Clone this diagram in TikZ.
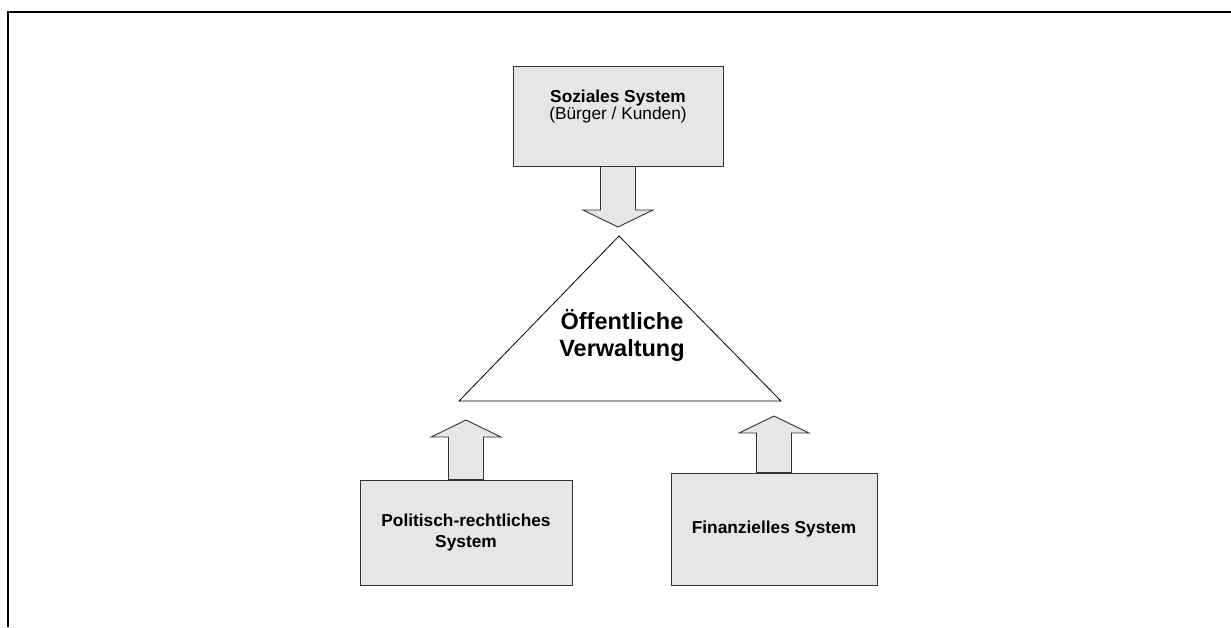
\documentclass[tikz,border=0pt]{standalone}
\usepackage{fontspec}
\setmainfont{Liberation Sans}
\usetikzlibrary{calc}
\definecolor{boxgray}{HTML}{E6E6E6}
\definecolor{edgegray}{HTML}{333333}

% block arrow from a box side (#1) up or down to a tip point (#2)
\newcommand\blockarrow[2]{%
  \draw[blockarr] let \p1=(#1), \p2=(#2), \n1={17*sign(\y1-\y2)} in
    (\x2-17.5pt,\y1) -- (\x2-17.5pt,\y2+\n1) -- (\x2-35pt,\y2+\n1) -- (\x2,\y2)
    -- (\x2+35pt,\y2+\n1) -- (\x2+17.5pt,\y2+\n1) -- (\x2+17.5pt,\y1) -- cycle;}

\begin{document}
\begin{tikzpicture}[x=1pt,y=-1pt,
  sysbox/.style={draw=edgegray,line width=0.9pt,fill=boxgray,rectangle,inner sep=0pt},
  blockarr/.style={draw=edgegray,line width=0.9pt,fill=boxgray,line join=miter},
  boldlabel/.style={font=\fontsize{17.3}{21}\selectfont\bfseries,align=center},
  plainlabel/.style={font=\fontsize{17.3}{20}\selectfont}]
\useasboundingbox (0,0) rectangle (1231,627);

% frame
\draw[line width=2pt] (1231,12) -- (8,12) -- (8,627);

% boxes
\node[sysbox,minimum width=210pt,minimum height=100pt] (soz) at (618,116) {};
\node[align=center,inner sep=0pt] (sozlabel) at (618,106.5)
  {\fontsize{17.3}{20}\selectfont\textbf{Soziales System}\\ \fontsize{17.3}{20}\selectfont(Bürger / Kunden)};
\node[sysbox,boldlabel,minimum width=212pt,minimum height=105pt] (pol) at (466,532.5)
  {Politisch-rechtliches\\System};
\node[sysbox,boldlabel,minimum width=206pt,minimum height=112pt] (fin) at (774,529)
  {Finanzielles System};

% triangle
\coordinate (apex) at (619,236);
\coordinate (baseL) at (459,401);
\coordinate (baseR) at (781,401);
\draw[line width=0.8pt,fill=white] (apex) -- (baseR) -- (baseL) -- cycle;
\node[align=center,inner sep=0pt,font=\fontsize{23.5}{27}\selectfont\bfseries]
  (verw) at (622,335.5) {Öffentliche\\Verwaltung};

% arrow tips
\coordinate (tipS) at (618,227);
\coordinate (tipP) at (466,420);
\coordinate (tipF) at (774,416);

\blockarrow{soz.south}{tipS}
\blockarrow{pol.north}{tipP}
\blockarrow{fin.north}{tipF}
\end{tikzpicture}
\end{document}
